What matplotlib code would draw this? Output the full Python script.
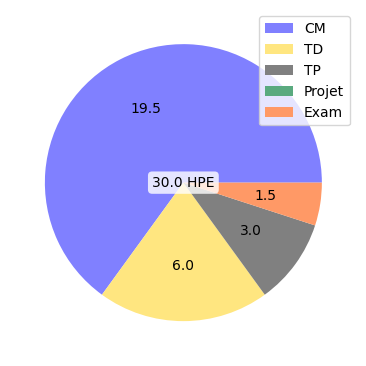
import matplotlib
matplotlib.use('Agg')
import matplotlib.pyplot as plt

# heures par type d'enseignement
labels = ['CM', 'TD', 'TP', 'Projet', 'Exam']
heures = [19.5, 6.0, 3.0, 0.0, 1.5]
couleurs = ['#8080ff', '#ffe680', '#808080', '#5aaa7f', '#ff9966']

total = sum(heures)


def valeur(p):
    # affiche la valeur en heures plutot que le pourcentage
    if p <= 0:
        return ''
    return '%.1f' % (p * total / 100)


fig = plt.figure(figsize=(3.66, 3.66), dpi=100)
ax = fig.add_axes([0.028, 0.028, 0.946, 0.946])
ax.pie(heures, colors=couleurs, autopct=valeur, startangle=0)
ax.set_xlim(-1.25, 1.25)
ax.set_ylim(-1.25, 1.25)
ax.text(0, 0, '%.1f HPE' % total, ha='center', va='center',
        bbox=dict(boxstyle='round', facecolor='white', edgecolor='none', alpha=0.8))
ax.legend(labels, loc='upper right')
fig.savefig('out.png', dpi=100)
